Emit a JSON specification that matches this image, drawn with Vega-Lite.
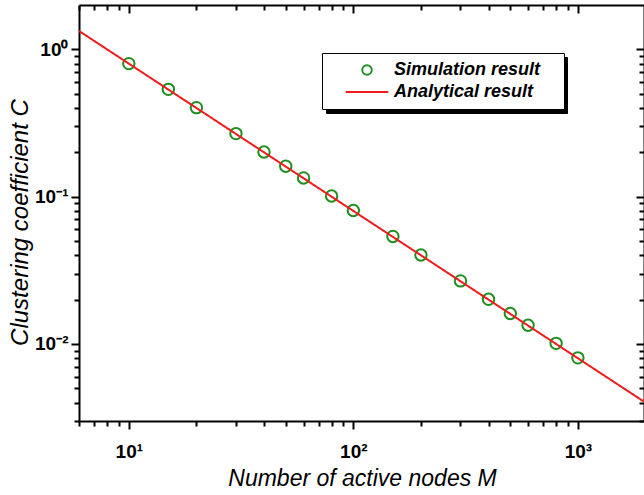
{
  "$schema": "https://vega.github.io/schema/vega-lite/v6.json",
  "width": 565,
  "height": 416,
  "autosize": {"type": "none"},
  "padding": {"left": 79, "top": 5, "right": 0, "bottom": 74},
  "background": "white",
  "datasets": {
    "sim": [
      {"M": 10, "C": 0.80, "series": "Simulation result"},
      {"M": 15, "C": 0.535, "series": "Simulation result"},
      {"M": 20, "C": 0.402, "series": "Simulation result"},
      {"M": 30, "C": 0.268, "series": "Simulation result"},
      {"M": 40, "C": 0.201, "series": "Simulation result"},
      {"M": 50, "C": 0.161, "series": "Simulation result"},
      {"M": 60, "C": 0.134, "series": "Simulation result"},
      {"M": 80, "C": 0.101, "series": "Simulation result"},
      {"M": 100, "C": 0.0805, "series": "Simulation result"},
      {"M": 150, "C": 0.0537, "series": "Simulation result"},
      {"M": 200, "C": 0.0402, "series": "Simulation result"},
      {"M": 300, "C": 0.0268, "series": "Simulation result"},
      {"M": 400, "C": 0.0201, "series": "Simulation result"},
      {"M": 500, "C": 0.0161, "series": "Simulation result"},
      {"M": 600, "C": 0.0134, "series": "Simulation result"},
      {"M": 800, "C": 0.0101, "series": "Simulation result"},
      {"M": 1000, "C": 0.00805, "series": "Simulation result"}
    ],
    "ana": [
      {"M": 6, "C": 1.3333, "series": "Analytical result", "kind": "analytical"},
      {"M": 1970, "C": 0.00406, "series": "Analytical result", "kind": "analytical"}
    ]
  },
  "layer": [
    {
      "data": {"name": "sim"},
      "mark": {"type": "point", "filled": false, "strokeWidth": 2, "size": 130, "opacity": 1},
      "encoding": {
        "x": {
          "field": "M", "type": "quantitative",
          "scale": {"type": "log", "domain": [6, 1970], "nice": false, "zero": false},
          "axis": {
            "orient": "bottom",
            "values": [6, 7, 8, 9, 10, 20, 30, 40, 50, 60, 70, 80, 90, 100, 200, 300, 400, 500, 600, 700, 800, 900, 1000],
            "labelExpr": "datum.value == 10 ? '10\u00b9' : datum.value == 100 ? '10\u00b2' : datum.value == 1000 ? '10\u00b3' : ''",
            "tickSize": {"condition": {"test": "indexof([10,100,1000], datum.value) >= 0", "value": 8}, "value": 5},
            "labelPadding": 28,
            "labelBaseline": "alphabetic",
            "title": "Number of active nodes M",
            "titleX": 283,
            "titleY": 64,
            "titleBaseline": "alphabetic"
          }
        },
        "y": {
          "field": "C", "type": "quantitative",
          "scale": {"type": "log", "domain": [0.003, 2], "nice": false, "zero": false},
          "axis": {
            "orient": "left",
            "values": [0.003, 0.004, 0.005, 0.006, 0.007, 0.008, 0.009, 0.01, 0.02, 0.03, 0.04, 0.05, 0.06, 0.07, 0.08, 0.09, 0.1, 0.2, 0.3, 0.4, 0.5, 0.6, 0.7, 0.8, 0.9, 1],
            "labelExpr": "datum.value == 1 ? '10\u2070' : datum.value == 0.1 ? '10\u207b\u00b9' : datum.value == 0.01 ? '10\u207b\u00b2' : ''",
            "tickSize": {"condition": {"test": "indexof([0.01,0.1,1], datum.value) >= 0", "value": 8}, "value": 5},
            "labelPadding": 3,
            "labelBaseline": "middle",
            "title": "Clustering coefficient C",
            "titleFontSize": 24,
            "titleX": -52,
            "titleY": 217,
            "titleAngle": 270,
            "titleAlign": "center",
            "titleBaseline": "alphabetic"
          }
        },
        "color": {
          "field": "series", "type": "nominal",
          "scale": {"domain": ["Simulation result", "Analytical result"], "range": ["#1f8f1f", "#ee1c1c"]},
          "legend": {
            "orient": "none", "legendX": 243, "legendY": 48, "direction": "vertical",
            "title": " ", "titleOrient": "right", "titlePadding": 16,
            "fillColor": "white", "strokeColor": "black", "zindex": 2
          }
        },
        "shape": {
          "field": "series", "type": "nominal",
          "scale": {"domain": ["Simulation result", "Analytical result"], "range": ["circle", "M-4.5,0H4.5"]},
          "legend": {
            "orient": "none", "legendX": 243, "legendY": 48, "direction": "vertical",
            "title": " ", "titleOrient": "right", "titlePadding": 16,
            "fillColor": "white", "strokeColor": "black", "zindex": 2
          }
        }
      }
    },
    {
      "data": {"name": "ana"},
      "mark": {"type": "line", "strokeWidth": 2, "clip": true},
      "encoding": {
        "x": {
          "field": "M", "type": "quantitative",
          "axis": {
            "orient": "top",
            "values": [6, 7, 8, 9, 10, 20, 30, 40, 50, 60, 70, 80, 90, 100, 200, 300, 400, 500, 600, 700, 800, 900, 1000],
            "labels": false, "title": null,
            "tickSize": {"condition": {"test": "indexof([10,100,1000], datum.value) >= 0", "value": -8}, "value": -5}
          }
        },
        "y": {
          "field": "C", "type": "quantitative",
          "axis": {
            "orient": "right",
            "values": [0.003, 0.004, 0.005, 0.006, 0.007, 0.008, 0.009, 0.01, 0.02, 0.03, 0.04, 0.05, 0.06, 0.07, 0.08, 0.09, 0.1, 0.2, 0.3, 0.4, 0.5, 0.6, 0.7, 0.8, 0.9, 1],
            "labels": false, "title": null,
            "tickSize": {"condition": {"test": "indexof([0.01,0.1,1], datum.value) >= 0", "value": -8}, "value": -5}
          }
        },
        "color": {"field": "series", "type": "nominal"},
        "strokeDash": {
          "field": "kind", "type": "nominal",
          "scale": {"domain": ["simulation", "analytical"], "range": [[1, 0], [1, 0]]},
          "legend": {
            "orient": "none", "legendX": 247, "legendY": 52, "direction": "vertical",
            "title": " ", "titleOrient": "right", "titlePadding": 16,
            "fillColor": "black", "strokeColor": "black", "zindex": 1,
            "symbolOpacity": 0, "labelExpr": "''", "labelOffset": 163
          }
        }
      }
    }
  ],
  "resolve": {"axis": {"x": "independent", "y": "independent"}},
  "config": {
    "view": {"stroke": null},
    "axis": {
      "grid": false,
      "domainColor": "black", "domainWidth": 2,
      "tickColor": "black", "tickWidth": 2,
      "labelFont": "Liberation Sans", "labelFontSize": 19, "labelFontWeight": "bold", "labelColor": "black",
      "titleFont": "Liberation Sans", "titleFontSize": 23, "titleFontStyle": "italic", "titleFontWeight": "normal", "titleColor": "black",
      "labelOverlap": false, "labelFlush": false, "labelBound": false
    },
    "legend": {
      "padding": 8, "rowPadding": 4,
      "labelFont": "Liberation Sans", "labelFontSize": 18, "labelFontWeight": "bold", "labelFontStyle": "italic",
      "labelColor": "black", "labelBaseline": "middle", "labelLimit": 400,
      "symbolSize": 90, "symbolStrokeWidth": 2,
      "symbolOffset": 28, "labelOffset": 18
    }
  }
}
